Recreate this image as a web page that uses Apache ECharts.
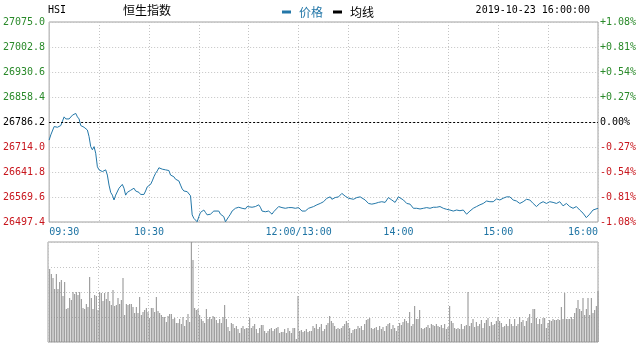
<!DOCTYPE html>
<html><head><meta charset="utf-8">
<script src="https://cdn.jsdelivr.net/npm/echarts@6/dist/echarts.min.js"></script>
<style>html,body{margin:0;padding:0;background:#fff}#c{width:642px;height:346px}</style>
</head><body><div id="c"></div>
<script>
// ---- data ----
const prevClose = 26786.2;
const yMin = 26497.4, yMax = 27075.0, yStep = 72.2;
const minuteTicks = [0, 60, 150, 210, 270, 330];
const tickLabels = ['09:30', '10:30', '12:00/13:00', '14:00', '15:00', '16:00'];

// minutes since open (lunch removed) and index price
const priceMinute = [0,1,3,5,7,9,10,11,12,14,16,17,18,19,21,23,24,25,26,27,28,29,30,32,33,34,35,36,37,38,39,40,41,42,43,44,45,46,47,48,49,50,51,52,53,54,55,56,57,58,59,60,61,62,63,64,65,66,67,68,69,70,71,72,73,74,75,76,77,78,79,80,81,82,83,84,85,86,87,88,89,90,91,92,93,94,95,96,97,99,100,102,103,104,105,106,107,108,109,110,112,114,116,117,118,119,120,122,123,124,125,126,127,128,130,132,133,134,135,136,138,139,140,142,143,144,146,147,148,149,150,151,152,154,156,157,159,161,163,165,167,169,170,172,173,174,176,177,178,180,181,183,185,187,188,190,192,194,196,198,200,202,203,204,206,208,210,211,213,215,217,219,221,223,225,227,229,231,233,235,237,239,241,243,245,247,249,251,253,255,257,259,261,263,265,267,269,271,273,275,276,277,279,281,283,285,287,289,291,293,295,297,299,301,303,305,307,309,311,313,315,317,319,321,323,325,327,328,330];
const priceValue = [26734,26749,26773,26771,26776,26801,26795,26800,26795,26806,26811,26801,26795,26776,26771,26763,26744,26715,26706,26715,26696,26657,26648,26643,26638,26648,26633,26604,26583,26575,26561,26575,26580,26595,26597,26606,26595,26575,26583,26585,26589,26587,26595,26587,26587,26583,26577,26580,26577,26587,26599,26604,26606,26616,26628,26638,26645,26654,26657,26650,26646,26648,26648,26646,26633,26631,26628,26621,26619,26616,26604,26593,26587,26587,26585,26580,26573,26518,26508,26503,26498,26513,26525,26529,26532,26525,26518,26513,26520,26529,26527,26529,26520,26520,26513,26498,26503,26513,26520,26529,26537,26540,26537,26540,26535,26542,26537,26540,26544,26542,26537,26547,26540,26529,26527,26529,26527,26520,26527,26532,26542,26537,26539,26537,26537,26539,26539,26542,26537,26532,26539,26534,26529,26529,26537,26542,26542,26547,26551,26556,26566,26570,26563,26568,26573,26570,26580,26575,26572,26566,26561,26563,26568,26570,26570,26561,26551,26549,26551,26554,26556,26554,26561,26568,26561,26554,26570,26570,26561,26551,26549,26537,26537,26535,26537,26539,26537,26540,26540,26542,26537,26534,26532,26529,26532,26530,26532,26520,26529,26537,26542,26547,26551,26558,26556,26556,26564,26561,26566,26570,26573,26570,26561,26558,26551,26556,26563,26561,26551,26542,26551,26556,26551,26556,26554,26551,26556,26544,26551,26542,26537,26542,26532,26523,26510,26520,26532,26529,26537];

// per-minute volume (relative units, 100 = top of panel), minutes 1..330
const volumeValue = [73,68,64,53,68,53,60,62,46,60,33,34,44,42,50,48,50,47,50,43,34,33,38,35,65,44,33,47,46,32,50,49,41,49,43,50,41,37,52,36,37,44,38,42,64,27,38,37,38,38,35,29,35,29,45,27,30,32,34,30,24,34,34,30,45,31,29,27,25,25,20,26,28,28,23,24,19,19,23,18,25,16,22,28,20,130,82,34,32,33,27,23,21,19,33,23,25,23,26,25,22,19,23,19,25,37,23,15,11,19,18,14,16,13,9,14,16,13,14,14,24,14,16,18,13,9,14,17,17,11,9,11,13,14,11,13,14,15,9,10,10,13,9,14,11,9,14,14,3,46,11,12,10,11,13,10,11,11,16,14,18,13,15,18,11,13,17,19,26,21,19,16,13,14,13,14,16,18,21,19,14,9,12,13,13,16,14,16,12,18,22,23,24,14,13,14,15,12,16,13,15,11,16,18,19,13,17,14,11,16,19,17,20,23,21,19,30,16,18,36,23,23,32,14,13,14,15,17,14,18,17,16,18,16,15,17,14,18,13,15,36,21,19,14,13,14,13,18,13,16,17,50,16,19,23,15,20,16,18,22,14,19,22,24,16,20,17,18,21,25,21,19,15,16,18,16,23,18,16,23,16,18,25,20,22,16,21,24,28,19,33,33,24,18,23,18,24,24,14,19,22,21,23,22,22,23,22,35,23,49,23,23,23,25,23,29,34,42,33,31,44,27,33,44,27,44,29,32,36,51];

// ---- chart ----
const mono = 'DejaVu Sans Mono';
const cjk = 'Noto Sans CJK SC';
const green = '#2a8a2a', red = '#c8161d', blue = '#2377a8';
const dotted = {show: true, lineStyle: {color: '#c4c4c4', type: [1, 2], width: 1}};

function levelColor(v) {
  v = parseFloat(v);
  if (Math.abs(v - prevClose) < 0.05) return '#000';
  return v > prevClose ? green : red;
}

const priceData = priceMinute.map((m, k) => [m, priceValue[k]]);
const volData = volumeValue.map((v, k) => [k + 1, v]);

const chart = echarts.init(document.getElementById('c'));
chart.setOption({
  animation: false,
  backgroundColor: '#fff',
  grid: [
    {left: 48, right: 44, top: 22, height: 200, show: true, borderColor: '#a0a0a0', borderWidth: 1},
    {left: 48, right: 44, top: 242, height: 100, show: true, borderColor: '#a0a0a0', borderWidth: 1}
  ],
  legend: {
    left: 277, top: 1, itemWidth: 9, itemHeight: 3, itemGap: 10, icon: 'rect',
    textStyle: {fontFamily: cjk, fontSize: 12, padding: [0, 0, 0, 3]},
    data: [{name: '价格', textStyle: {color: blue}}, {name: '均线', textStyle: {color: '#000'}}]
  },
  graphic: [
    {type: 'text', left: 48, top: 5, style: {text: 'HSI', font: '10px ' + mono, fill: '#000'}},
    {type: 'text', left: 123, top: 4, style: {text: '恒生指数', font: '12px "' + cjk + '"', fill: '#000'}},
    {type: 'text', right: 52, top: 5, style: {text: '2019-10-23 16:00:00', font: '10px ' + mono, fill: '#000'}}
  ],
  xAxis: [
    {
      type: 'value', gridIndex: 0, min: 0, max: 330, interval: 30,
      axisLine: {show: false}, axisTick: {show: false}, splitLine: dotted,
      axisLabel: {
        margin: 5, fontFamily: mono, fontSize: 10, color: '#1f74a4',
        alignMinLabel: 'left', alignMaxLabel: 'right',
        formatter: v => { const k = minuteTicks.indexOf(v); return k >= 0 ? tickLabels[k] : ''; }
      }
    },
    {
      type: 'value', gridIndex: 1, min: 0, max: 330, interval: 30,
      axisLine: {show: false}, axisTick: {show: false}, splitLine: dotted, axisLabel: {show: false}
    }
  ],
  yAxis: [
    {
      type: 'value', gridIndex: 0, position: 'left', min: yMin, max: yMax, interval: yStep,
      axisLine: {show: false}, axisTick: {show: false}, splitLine: dotted,
      axisLabel: {margin: 4, fontFamily: mono, fontSize: 10, padding: [0, 0, 4, 0],
        formatter: v => v.toFixed(1), color: levelColor}
    },
    {
      type: 'value', gridIndex: 0, position: 'right', min: yMin, max: yMax, interval: yStep,
      axisLine: {show: false}, axisTick: {show: false}, splitLine: {show: false},
      axisLabel: {margin: 2, fontFamily: mono, fontSize: 10, padding: [0, 0, 4, 0], color: levelColor,
        formatter: v => {
          const p = (v - prevClose) / prevClose * 100;
          if (Math.abs(p) < 0.005) return '0.00%';
          return (p > 0 ? '+' : '') + p.toFixed(2) + '%';
        }}
    },
    {
      type: 'value', gridIndex: 1, min: 0, max: 100, interval: 25,
      axisLine: {show: false}, axisTick: {show: false}, splitLine: dotted, axisLabel: {show: false}
    }
  ],
  series: [
    {
      name: '价格', type: 'line', xAxisIndex: 0, yAxisIndex: 0, data: priceData,
      showSymbol: false, symbol: 'none', color: blue, lineStyle: {color: blue, width: 1},
      markLine: {silent: true, symbol: 'none', label: {show: false},
        lineStyle: {color: '#000', type: [2, 2], width: 1}, data: [{yAxis: prevClose}]}
    },
    {name: '均线', type: 'line', xAxisIndex: 0, yAxisIndex: 0, data: [], color: '#000', showSymbol: false},
    {
      name: 'vol', type: 'bar', xAxisIndex: 1, yAxisIndex: 2, data: volData,
      barWidth: 1, itemStyle: {color: '#8e8e8e'}, clip: true
    }
  ]
});
</script></body></html>
